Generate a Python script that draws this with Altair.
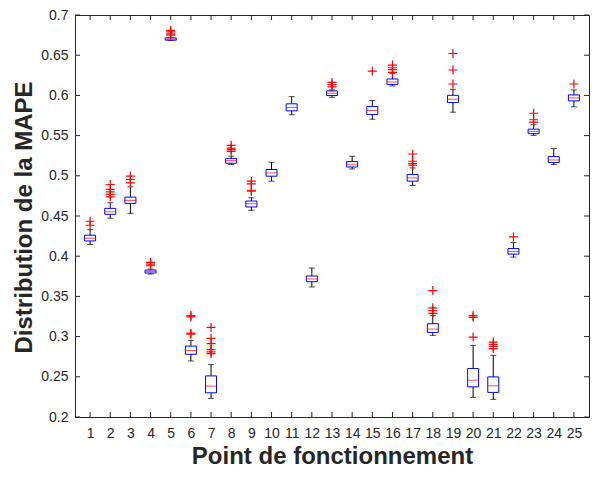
import altair as alt
import pandas as pd

positions = list(range(1, 26))
medians = [0.4224, 0.4553, 0.4694, 0.3811, 0.6699, 0.2826, 0.2384, 0.5189, 0.4653, 0.5036,
           0.5849, 0.3717, 0.6026, 0.5144, 0.5812, 0.6167, 0.4974, 0.3093, 0.5952, 0.2458,
           0.2388, 0.4058, 0.5552, 0.5197, 0.5969]
q1 = [0.4190, 0.4521, 0.4657, 0.3791, 0.6687, 0.2780, 0.2301, 0.5156, 0.4612, 0.4995,
      0.5808, 0.3683, 0.5998, 0.5110, 0.5762, 0.6137, 0.4933, 0.3052, 0.5911, 0.2375,
      0.2306, 0.4026, 0.5524, 0.5165, 0.5932]
q3 = [0.4261, 0.4595, 0.4735, 0.3828, 0.6715, 0.2882, 0.2511, 0.5214, 0.4686, 0.5078,
      0.5895, 0.3754, 0.6056, 0.5177, 0.5861, 0.6204, 0.5016, 0.3160, 0.6001, 0.2603,
      0.2499, 0.4095, 0.5580, 0.5239, 0.6006]
whisk_lo = [0.4145, 0.4472, 0.4533, 0.3778, 0.6682, 0.2697, 0.2231, 0.5140, 0.4571, 0.4933,
            0.5759, 0.3618, 0.5977, 0.5085, 0.5704, 0.6118, 0.4880, 0.3015, 0.5791, 0.2244,
            0.2219, 0.3989, 0.5503, 0.5140, 0.5858]
whisk_hi = [0.4330, 0.4665, 0.4863, 0.3840, 0.6722, 0.2953, 0.2652, 0.5243, 0.4727, 0.5168,
            0.5985, 0.3853, 0.6068, 0.5243, 0.5936, 0.6270, 0.5098, 0.3262, 0.6076, 0.2891,
            0.2767, 0.4170, 0.5635, 0.5338, 0.6068]

outlier_pos = [1, 1,
               2, 2, 2, 2, 2,
               3, 3, 3,
               4, 4, 4,
               5, 5, 5, 5,
               6, 6, 6, 6,
               7, 7, 7, 7, 7, 7,
               8, 8, 8, 8,
               9, 9, 9, 9,
               13, 13, 13,
               15,
               16, 16, 16, 16,
               17, 17, 17, 17,
               18, 18, 18, 18,
               19, 19, 19,
               20, 20, 20,
               21, 21, 21, 21,
               22,
               23, 23, 23,
               25]
outlier_val = [0.4435, 0.4385,
               0.4892, 0.4830, 0.4801, 0.4769, 0.4739,
               0.4995, 0.4954, 0.4912,
               0.3922, 0.3902, 0.3881,
               0.6810, 0.6790, 0.6765, 0.6750,
               0.3262, 0.3245, 0.3043, 0.3030,
               0.3114, 0.2978, 0.2912, 0.2838, 0.2810, 0.2789,
               0.5379, 0.5345, 0.5325, 0.5305,
               0.4933, 0.4900, 0.4820, 0.4809,
               0.6162, 0.6134, 0.6105,
               0.6303,
               0.6377, 0.6344, 0.6320, 0.6286,
               0.5271, 0.5181, 0.5152, 0.5131,
               0.3572, 0.3358, 0.3324, 0.3290,
               0.6521, 0.6316, 0.6142,
               0.3262, 0.3240, 0.2994,
               0.2932, 0.2904, 0.2879, 0.2851,
               0.4240,
               0.5778, 0.5697, 0.5667,
               0.6142]

x_ticks = list(range(1, 26))
y_ticks = [0.2, 0.25, 0.3, 0.35, 0.4, 0.45, 0.5, 0.55, 0.6, 0.65, 0.7]

boxes = pd.DataFrame({"pos": positions, "med": medians, "q1": q1, "q3": q3,
                      "lo": whisk_lo, "hi": whisk_hi})
outs = pd.DataFrame({"pos": outlier_pos, "val": outlier_val})
xt = pd.DataFrame({"pos": x_ticks})
yt = pd.DataFrame({"t": y_ticks})

W, H = 514, 402
FONT = "Liberation Sans"
TXT = "#262626"

xs = alt.Scale(domain=[0.5, 25.5], nice=False, zero=False)
ys = alt.Scale(domain=[0.2, 0.7], nice=False, zero=False)

x_axis = alt.Axis(values=x_ticks, format="d", ticks=False, domain=False, grid=False,
                  labelFont=FONT, labelFontSize=14, labelColor=TXT, labelPadding=9,
                  title="Point de fonctionnement", titleFont=FONT, titleFontSize=24,
                  titleFontWeight="bold", titleColor=TXT, titleX=W / 2, titleY=46.5,
                  titleBaseline="alphabetic", titleAlign="center")
y_axis = alt.Axis(values=y_ticks, format=".2~f", ticks=False, domain=False, grid=False,
                  labelFont=FONT, labelFontSize=14, labelColor=TXT, labelPadding=7,
                  title="Distribution de la MAPE", titleFont=FONT, titleFontSize=24,
                  titleFontWeight="bold", titleColor=TXT, titleX=-44, titleY=202,
                  titleAngle=270, titleBaseline="alphabetic", titleAlign="center")

X = alt.X("pos:Q", scale=xs, axis=x_axis)


def Y(f):
    return alt.Y(f, scale=ys, axis=y_axis)


base = alt.Chart(boxes)

whisk_up = base.mark_rule(color="black", strokeWidth=1).encode(x=X, y=Y("q3:Q"), y2="hi:Q")
whisk_dn = base.mark_rule(color="black", strokeWidth=1).encode(x=X, y=Y("lo:Q"), y2="q1:Q")
cap_up = base.mark_tick(orient="horizontal", size=6, thickness=1, color="black").encode(
    x=X, y=Y("hi:Q"))
cap_dn = base.mark_tick(orient="horizontal", size=6, thickness=1, color="black").encode(
    x=X, y=Y("lo:Q"))
box = base.mark_bar(size=11, fill="white", stroke="#0000FF", strokeWidth=1).encode(
    x=X, y=Y("q1:Q"), y2="q3:Q")
med = base.mark_tick(orient="horizontal", size=11, thickness=1, color="#FF0000").encode(
    x=X, y=Y("med:Q"))
pts = alt.Chart(outs).mark_point(shape="M-1,0L1,0M0,-1L0,1", size=81, filled=False,
                                 stroke="#FF0000", strokeWidth=1.2, opacity=1).encode(
    x=X, y=Y("val:Q"))

tk = dict(color=TXT, strokeWidth=1)
bot_ticks = alt.Chart(xt).mark_rule(**tk).encode(x=X, y=alt.value(H), y2=alt.value(H - 5))
top_ticks = alt.Chart(xt).mark_rule(**tk).encode(x=X, y=alt.value(0), y2=alt.value(5))
left_ticks = alt.Chart(yt).mark_rule(**tk).encode(y=Y("t:Q"), x=alt.value(0), x2=alt.value(5))
right_ticks = alt.Chart(yt).mark_rule(**tk).encode(y=Y("t:Q"), x=alt.value(W), x2=alt.value(W - 5))

chart = alt.layer(whisk_up, whisk_dn, cap_up, cap_dn, box, med, pts,
                  bot_ticks, top_ticks, left_ticks, right_ticks).properties(
    width=W, height=H,
    autosize=alt.AutoSizeParams(type="none"),
    padding={"left": 67, "top": 7, "right": 1, "bottom": 52},
    background="white",
).configure_view(stroke=TXT, strokeWidth=1)

chart.save("out.html", embed_options={"renderer": "svg", "actions": False})
